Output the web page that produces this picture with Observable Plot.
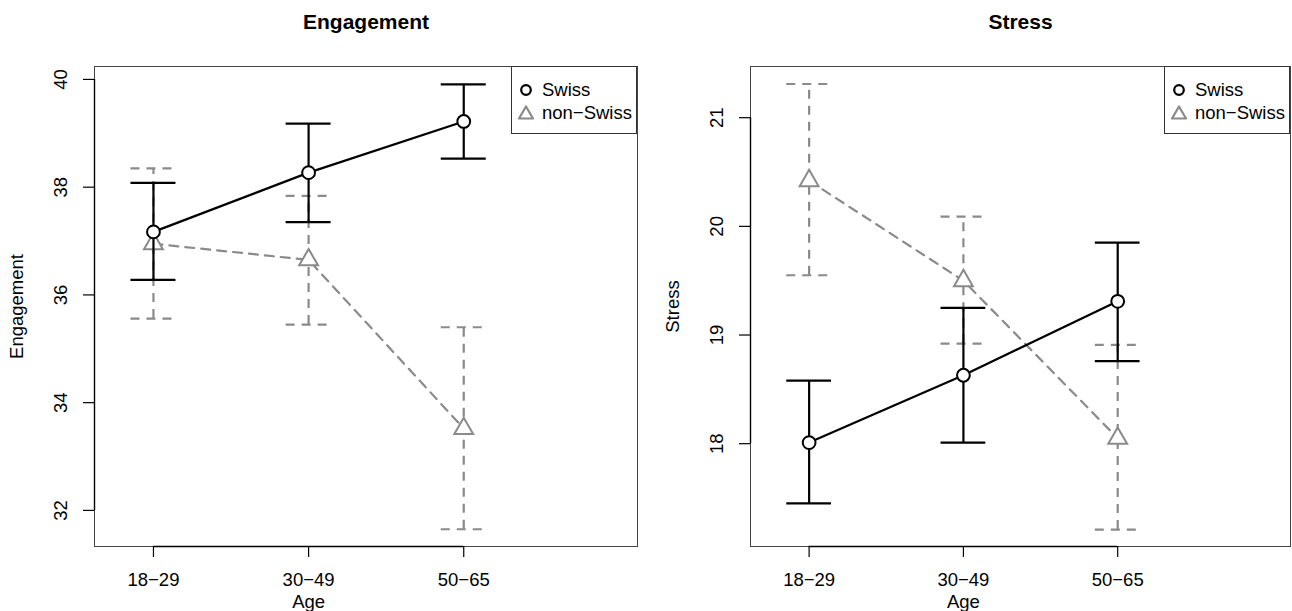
<!DOCTYPE html>
<html>
<head>
<meta charset="utf-8">
<script src="https://cdn.jsdelivr.net/npm/d3@7"></script>
<script src="https://cdn.jsdelivr.net/npm/@observablehq/plot@0.6"></script>
<style>
  html, body { margin: 0; padding: 0; background: #fff; }
  body { font-family: "Liberation Sans", Arial, Helvetica, sans-serif; }
  #root { position: relative; width: 1292px; height: 611px; overflow: hidden; background: #fff; }
  .panel { position: absolute; top: 0; }
  .legend { position: absolute; box-sizing: border-box; border: 1px solid #333; background: #fff; font-size: 18.5px; color: #000; }
  .legend .row { position: absolute; left: 0; height: 22px; line-height: 22px; white-space: nowrap; }
  .legend svg { position: absolute; left: 6px; top: 3px; }
  .legend span { position: absolute; left: 30px; top: 0; }
</style>
</head>
<body>
<div id="root"></div>
<script>
// ---- data ----
const ages = ["18\u221229", "30\u221249", "50\u221265"];
const groups = ["Swiss", "non\u2212Swiss"];

const engSwissMean = [37.17, 38.27, 39.22];
const engSwissLo   = [36.28, 37.35, 38.53];
const engSwissHi   = [38.08, 39.18, 39.91];
const engNonMean   = [36.95, 36.65, 33.52];
const engNonLo     = [35.56, 35.45, 31.65];
const engNonHi     = [38.35, 37.84, 35.40];

const strSwissMean = [18.01, 18.63, 19.31];
const strSwissLo   = [17.45, 18.01, 18.76];
const strSwissHi   = [18.58, 19.25, 19.85];
const strNonMean   = [20.42, 19.50, 18.05];
const strNonLo     = [19.55, 18.92, 17.21];
const strNonHi     = [21.31, 20.09, 18.91];

const engTicks = [32, 34, 36, 38, 40];
const strTicks = [18, 19, 20, 21];

// ---- styling ----
const H = 611;
const GRAY = "#8a8a8a";
const FONT = "'Liberation Sans', Arial, Helvetica, sans-serif";
const capHalf = 0.145;
const xDomain = [0.62, 4.12];
const idx = ages.map((_, i) => i + 1);

function makePanel({title, ylab, ticks, ydomain, series, width, marginLeft, marginRight}) {
  const marks = [];
  for (const s of series) {
    const rows = s.mean.map((m, i) => ({i: i + 1, mean: m, lo: s.lo[i], hi: s.hi[i]}));
    const st = {stroke: s.color, strokeWidth: 2.2, strokeDasharray: s.dash};
    marks.push(
      Plot.ruleX(rows, {x: "i", y1: "lo", y2: "hi", ...st}),
      Plot.ruleY(rows, {y: "hi", x1: d => d.i - capHalf, x2: d => d.i + capHalf, ...st}),
      Plot.ruleY(rows, {y: "lo", x1: d => d.i - capHalf, x2: d => d.i + capHalf, ...st}),
      Plot.line(rows, {x: "i", y: "mean", ...st}),
      Plot.dot(rows, {x: "i", y: "mean", symbol: s.symbol, r: s.r, fill: "white", stroke: s.color, strokeWidth: 2})
    );
  }
  marks.push(
    Plot.frame({stroke: "#444", strokeWidth: 1}),
    // axis lines (from first to last tick, R style)
    Plot.ruleY([ydomain[0]], {x1: idx[0], x2: idx[idx.length - 1], stroke: "#000", strokeWidth: 1.4}),
    Plot.ruleX([xDomain[0]], {y1: ticks[0], y2: ticks[ticks.length - 1], stroke: "#000", strokeWidth: 1.4}),
    Plot.axisX(idx, {tickSize: 11, tickFormat: () => "", label: null, stroke: "#000", strokeWidth: 1.2}),
    Plot.axisY(ticks, {tickSize: 11, tickFormat: () => "", label: null, stroke: "#000", strokeWidth: 1.2}),
    // tick labels
    Plot.text(idx, {x: d => d, text: d => ages[d - 1], frameAnchor: "bottom", dy: 34, lineAnchor: "middle", textAnchor: "middle", fontSize: 18.5, fill: "#000"}),
    Plot.text(ticks, {y: d => d, text: d => String(d), frameAnchor: "left", dx: -33, rotate: -90, textAnchor: "middle", lineAnchor: "middle", fontSize: 18.5, fill: "#000"}),
    // axis titles
    Plot.text(["Age"], {x: d3.mean(idx), text: d => d, frameAnchor: "bottom", dy: 56, lineAnchor: "middle", fontSize: 18.5, fill: "#000"}),
    Plot.text([ylab], {text: d => d, frameAnchor: "left", dx: -77, rotate: -90, textAnchor: "middle", lineAnchor: "middle", fontSize: 18.5, fill: "#000"}),
    // main title
    Plot.text([title], {text: d => d, frameAnchor: "top", dy: -44, lineAnchor: "middle", fontSize: 21, fontWeight: "bold", fill: "#000"})
  );
  return Plot.plot({
    width, height: H,
    marginLeft, marginRight, marginTop: 66, marginBottom: 65,
    x: {domain: xDomain},
    y: {domain: ydomain},
    style: {fontFamily: FONT, fontSize: "18px", background: "white", color: "#000", overflow: "visible"},
    marks
  });
}

function seriesFor(sMean, sLo, sHi, nMean, nLo, nHi) {
  // non-Swiss drawn first, Swiss on top
  return [
    {group: groups[1], mean: nMean, lo: nLo, hi: nHi, color: GRAY, dash: "9,7", symbol: "triangle", r: 7},
    {group: groups[0], mean: sMean, lo: sLo, hi: sHi, color: "#000", dash: undefined, symbol: "circle", r: 6.4}
  ];
}

function legend(left, top, width, height) {
  const div = document.createElement("div");
  div.className = "legend";
  Object.assign(div.style, {left: left + "px", top: top + "px", width: width + "px", height: height + "px"});
  const syms = [
    `<svg width="16" height="16"><circle cx="8" cy="8" r="4.8" fill="white" stroke="#000" stroke-width="2.2"/></svg>`,
    `<svg width="20" height="16"><polygon points="8,1.5 15,13.5 1,13.5" fill="white" stroke="${GRAY}" stroke-width="2.2" stroke-linejoin="round"/></svg>`
  ];
  groups.forEach((g, k) => {
    const row = document.createElement("div");
    row.className = "row";
    row.style.top = (12 + k * 22.5) + "px";
    row.style.width = width + "px";
    row.innerHTML = syms[k] + `<span>${g}</span>`;
    div.appendChild(row);
  });
  return div;
}

const root = document.getElementById("root");

const left = makePanel({
  title: "Engagement", ylab: "Engagement", ticks: engTicks, ydomain: [31.33, 40.24],
  series: seriesFor(engSwissMean, engSwissLo, engSwissHi, engNonMean, engNonLo, engNonHi),
  width: 646, marginLeft: 94, marginRight: 9
});
left.classList.add("panel");
left.style.left = "0px";
root.appendChild(left);

const right = makePanel({
  title: "Stress", ylab: "Stress", ticks: strTicks, ydomain: [17.054, 21.471],
  series: seriesFor(strSwissMean, strSwissLo, strSwissHi, strNonMean, strNonLo, strNonHi),
  width: 646, marginLeft: 104, marginRight: 2
});
right.classList.add("panel");
right.style.left = "646px";
root.appendChild(right);

root.appendChild(legend(511, 66, 126, 68));
root.appendChild(legend(1164, 66, 126, 68));
</script>
</body>
</html>
